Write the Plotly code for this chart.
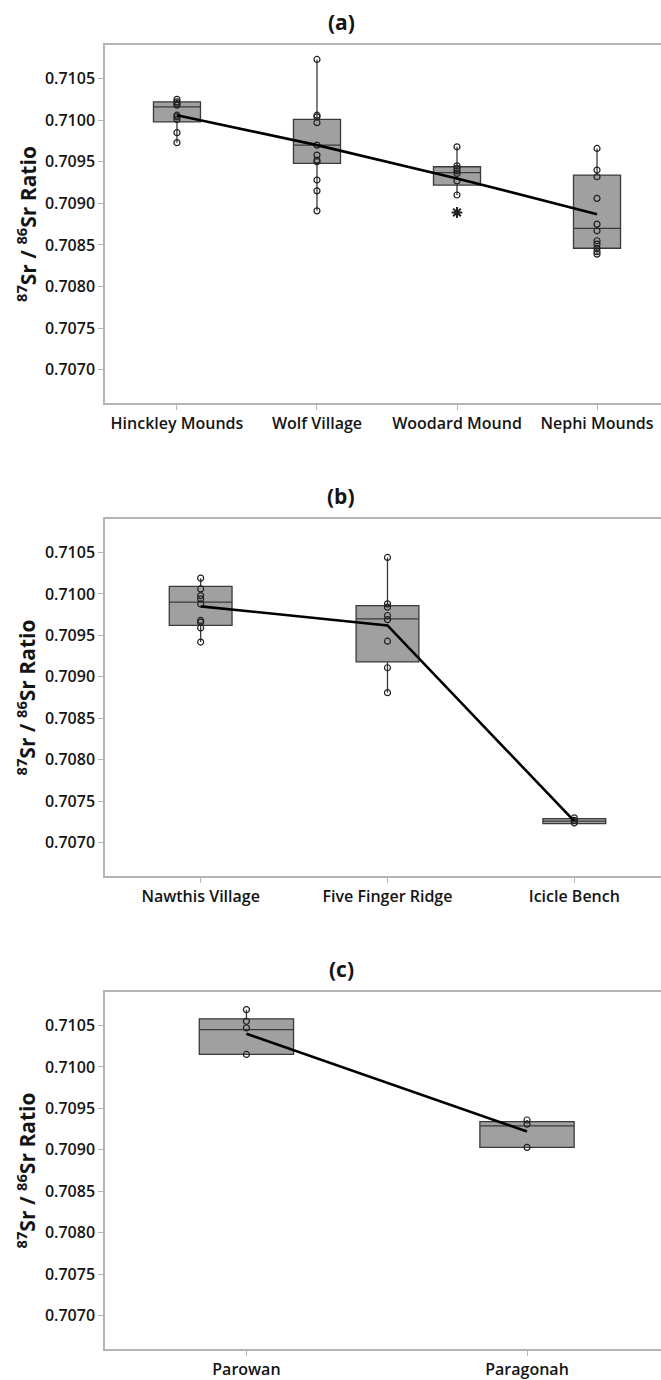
import plotly.graph_objects as go

# ---------------- data ----------------
# Panel (a)
cats_a = ["Hinckley Mounds", "Wolf Village", "Woodard Mound", "Nephi Mounds"]
pts_a = [
    [0.71025, 0.71022, 0.71020, 0.71018, 0.71006, 0.71004, 0.71001, 0.70985, 0.70973],
    [0.71073, 0.71006, 0.71004, 0.70997, 0.70970, 0.70958, 0.70952, 0.70950, 0.70928, 0.70915, 0.70891],
    [0.70968, 0.70945, 0.70942, 0.70939, 0.70936, 0.70927, 0.70910],
    [0.70966, 0.70940, 0.70932, 0.70906, 0.70875, 0.70867, 0.70855, 0.70851, 0.70846, 0.70842, 0.70839],
]
q1_a = [0.70998, 0.70948, 0.70922, 0.70846]
med_a = [0.71016, 0.70970, 0.70937, 0.70870]
q3_a = [0.71022, 0.71001, 0.70944, 0.70934]
lo_a = [0.70973, 0.70891, 0.70910, 0.70839]
hi_a = [0.71025, 0.71073, 0.70968, 0.70966]
mean_a = [0.71006, 0.70970, 0.70930, 0.70887]
out_cat_a = ["Woodard Mound"]
out_val_a = [0.70889]

# Panel (b)
cats_b = ["Nawthis Village", "Five Finger Ridge", "Icicle Bench"]
pts_b = [
    [0.71019, 0.71006, 0.70998, 0.70994, 0.70988, 0.70968, 0.70966, 0.70959, 0.70942],
    [0.71044, 0.70988, 0.70984, 0.70974, 0.70969, 0.70943, 0.70911, 0.70881],
    [0.70730, 0.70727, 0.70724],
]
q1_b = [0.70962, 0.70918, 0.70723]
med_b = [0.70990, 0.70970, 0.70726]
q3_b = [0.71009, 0.70986, 0.70729]
lo_b = [0.70942, 0.70881, 0.70723]
hi_b = [0.71019, 0.71044, 0.70730]
mean_b = [0.70985, 0.70962, 0.70726]

# Panel (c)
cats_c = ["Parowan", "Paragonah"]
pts_c = [
    [0.71069, 0.71055, 0.71047, 0.71015],
    [0.70936, 0.70931, 0.70903],
]
q1_c = [0.71015, 0.70903]
med_c = [0.71045, 0.70929]
q3_c = [0.71058, 0.70934]
lo_c = [0.71015, 0.70903]
hi_c = [0.71069, 0.70936]
mean_c = [0.71040, 0.70922]

panel_titles = ["(a)", "(b)", "(c)"]
y_ticks = [0.7070, 0.7075, 0.7080, 0.7085, 0.7090, 0.7095, 0.7100, 0.7105]

# ---------------- style / layout ----------------
W, H = 661, 1380
FONT = "Open Sans"
TXT = "#141414"
FRAME = "#b4b4b4"
BOXFILL = "#a0a0a0"
BOXLINE = "#3a3a3a"

panels = [
    dict(cats=cats_a, pts=pts_a, q1=q1_a, med=med_a, q3=q3_a, lo=lo_a, hi=hi_a, mean=mean_a,
         top=45, bot=404, xr=[-0.514, 3.457]),
    dict(cats=cats_b, pts=pts_b, q1=q1_b, med=med_b, q3=q3_b, lo=lo_b, hi=hi_b, mean=mean_b,
         top=520, bot=878, xr=[-0.512, 2.464]),
    dict(cats=cats_c, pts=pts_c, q1=q1_c, med=med_c, q3=q3_c, lo=lo_c, hi=hi_c, mean=mean_c,
         top=994, bot=1352, xr=[-0.504, 1.4775]),
]
Y_RANGE = [0.706598, 0.710905]
X_LEFT = 105

fig = go.Figure()
annotations = []

for i, p in enumerate(panels):
    n = "" if i == 0 else str(i + 1)
    xa, ya = "x" + n, "y" + n

    fig.add_trace(go.Box(
        x=p["cats"], q1=p["q1"], median=p["med"], q3=p["q3"],
        lowerfence=p["lo"], upperfence=p["hi"],
        boxpoints=False, width=0.336, whiskerwidth=0,
        fillcolor=BOXFILL, line=dict(color=BOXLINE, width=1.3),
        xaxis=xa, yaxis=ya, showlegend=False, hoverinfo="skip",
    ))

    xs, ys = [], []
    for c, vals in zip(p["cats"], p["pts"]):
        xs += [c] * len(vals)
        ys += vals
    fig.add_trace(go.Scatter(
        x=xs, y=ys, mode="markers",
        marker=dict(symbol="circle-open", size=6, color="#202020", line=dict(width=1.2)),
        xaxis=xa, yaxis=ya, showlegend=False, hoverinfo="skip",
    ))

    fig.add_trace(go.Scatter(
        x=p["cats"], y=p["mean"], mode="lines",
        line=dict(color="black", width=2.6),
        xaxis=xa, yaxis=ya, showlegend=False, hoverinfo="skip",
    ))

    if i == 0:
        fig.add_trace(go.Scatter(
            x=out_cat_a, y=out_val_a, mode="markers",
            marker=dict(symbol="asterisk-open", size=9, color="#202020", line=dict(width=2, color="#202020")),
            xaxis=xa, yaxis=ya, showlegend=False, hoverinfo="skip",
        ))

    dom_y = [1 - p["bot"] / H, 1 - p["top"] / H]
    fig.layout["xaxis" + n] = dict(
        domain=[X_LEFT / W, 1.0], anchor=ya, type="category",
        categoryorder="array", categoryarray=p["cats"], range=p["xr"],
        showline=True, linecolor=FRAME, linewidth=1.5, mirror=True,
        ticks="outside", ticklen=5, tickcolor=FRAME, tickwidth=1,
        showgrid=False, zeroline=False,
        tickfont=dict(family=FONT, size=16, color=TXT, weight=600),
    )
    fig.layout["yaxis" + n] = dict(
        domain=dom_y, anchor=xa, range=Y_RANGE,
        tickvals=y_ticks, tickformat=".4f",
        showline=True, linecolor=FRAME, linewidth=1.5, mirror=False,
        ticks="outside", ticklen=5, tickcolor=FRAME, tickwidth=1,
        showgrid=False, zeroline=False,
        tickfont=dict(family=FONT, size=16, color=TXT, weight=600),
    )

    annotations.append(dict(
        text=panel_titles[i], x=341 / W, y=1 - (p["top"] - 23) / H,
        xref="paper", yref="paper", xanchor="center", yanchor="middle",
        showarrow=False, font=dict(family=FONT, size=21, color=TXT, weight=700),
    ))
    annotations.append(dict(
        text="<sup>87</sup>Sr / <sup>86</sup>Sr Ratio", textangle=-90,
        x=26 / W, y=1 - ((p["top"] + p["bot"]) / 2) / H,
        xref="paper", yref="paper", xanchor="center", yanchor="middle",
        showarrow=False, font=dict(family=FONT, size=21, color=TXT, weight=700),
    ))

fig.update_layout(
    width=W, height=H, margin=dict(l=0, r=0, t=0, b=0),
    paper_bgcolor="white", plot_bgcolor="white",
    annotations=annotations,
)

fig.write_html("out.html")
